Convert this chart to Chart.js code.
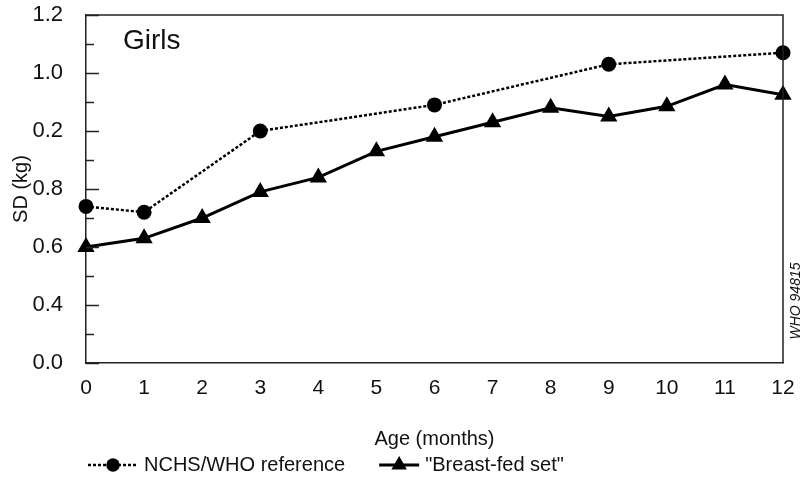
<!DOCTYPE html>
<html>
<head>
<meta charset="utf-8">
<script src="https://cdn.jsdelivr.net/npm/chart.js@4.4.1/dist/chart.umd.min.js"></script>
<style>
  html, body { margin: 0; padding: 0; background: #fff; }
  #wrap { width: 802px; height: 480px; }
</style>
</head>
<body>
<div id="wrap"><canvas id="sdChart" width="802" height="480"></canvas></div>
<script>
// data
var ageMonths = [0, 1, 2, 3, 4, 5, 6, 7, 8, 9, 10, 11, 12];
var nchsMonths = [0, 1, 3, 6, 9, 12];
var nchsSD = [0.54, 0.52, 0.80, 0.89, 1.03, 1.07];
var breastFedSD = [0.40, 0.43, 0.50, 0.59, 0.64, 0.73, 0.78, 0.83, 0.88, 0.85, 0.885, 0.96, 0.925];
// y labels exactly as printed in the original (it is mislabelled there)
var yTickLabels = ['0.0', '0.4', '0.6', '0.8', '0.2', '1.0', '1.2'];
var seriesNames = ['NCHS/WHO reference', '"Breast-fed set"'];

var FONT = '"Liberation Sans", Arial, Helvetica, sans-serif';
Chart.defaults.font.family = FONT;
Chart.defaults.color = '#111';

function toPoints(xs, ys) {
    return xs.map(function (x, i) { return { x: x, y: ys[i] }; });
}

// inward ticks on the y axis, long ones where a label is printed
var innerTicks = {
    id: 'innerTicks',
    afterDatasetsDraw: function (chart) {
        var ctx = chart.ctx, area = chart.chartArea, y = chart.scales.y;
        ctx.save();
        ctx.strokeStyle = '#222';
        ctx.lineWidth = 1.5;
        y.ticks.forEach(function (t, i) {
            var py = Math.round(y.getPixelForValue(t.value)) + 0.5;
            var len = (i % 2 === 0) ? 13 : 8;
            ctx.beginPath();
            ctx.moveTo(area.left, py);
            ctx.lineTo(area.left + len, py);
            ctx.stroke();
        });
        // top and right side of the frame
        ctx.beginPath();
        ctx.moveTo(area.left, area.top);
        ctx.lineTo(area.right, area.top);
        ctx.lineTo(area.right, area.bottom);
        ctx.stroke();
        ctx.restore();
    }
};

// panel title, file number and the legend under the axis
var decorations = {
    id: 'decorations',
    afterDraw: function (chart) {
        var ctx = chart.ctx, area = chart.chartArea;
        ctx.save();
        ctx.fillStyle = '#111';
        ctx.textBaseline = 'middle';
        ctx.font = '28px ' + FONT;
        ctx.fillText('Girls', area.left + 37, area.top + 26);

        ctx.save();
        ctx.translate(796, 301);
        ctx.rotate(-Math.PI / 2);
        ctx.textAlign = 'center';
        ctx.font = 'italic 14px ' + FONT;
        ctx.fillText('WHO 94815', 0, 0);
        ctx.restore();

        // legend
        var ly = 465, x = 88;
        var sampleW = [50, 40], gapAfter = [34, 0];
        ctx.font = '20px ' + FONT;
        chart.data.datasets.forEach(function (ds, i) {
            var sw = sampleW[i];
            ctx.save();
            ctx.strokeStyle = ds.borderColor;
            ctx.lineWidth = ds.borderWidth;
            ctx.setLineDash(ds.borderDash || []);
            ctx.beginPath();
            ctx.moveTo(x, ly);
            ctx.lineTo(x + sw, ly);
            ctx.stroke();
            ctx.setLineDash([]);
            ctx.fillStyle = ds.backgroundColor;
            Chart.helpers.drawPoint(ctx, {
                pointStyle: ds.pointStyle,
                radius: ds.pointRadius * 0.9,
                borderWidth: 0
            }, x + sw / 2, ly);
            ctx.restore();
            ctx.fillStyle = '#111';
            ctx.fillText(ds.label, x + sw + 6, ly);
            x += sw + 6 + ctx.measureText(ds.label).width + gapAfter[i];
        });
        ctx.restore();
    }
};

new Chart(document.getElementById('sdChart'), {
    type: 'line',
    data: {
        datasets: [
            {
                label: seriesNames[0],
                data: toPoints(nchsMonths, nchsSD),
                borderColor: '#000',
                backgroundColor: '#000',
                borderWidth: 2.5,
                borderDash: [3, 2],
                pointStyle: 'circle',
                pointRadius: 7.5,
                pointBorderWidth: 0,
                tension: 0,
                clip: false
            },
            {
                label: seriesNames[1],
                data: toPoints(ageMonths, breastFedSD),
                borderColor: '#000',
                backgroundColor: '#000',
                borderWidth: 3,
                pointStyle: 'triangle',
                pointRadius: 10,
                pointBorderWidth: 0,
                tension: 0,
                clip: false
            }
        ]
    },
    options: {
        responsive: false,
        animation: false,
        devicePixelRatio: 1,
        layout: { padding: { left: 0, right: 19, top: 15, bottom: 17 } },
        plugins: {
            legend: { display: false },
            tooltip: { enabled: false }
        },
        scales: {
            x: {
                type: 'linear',
                min: 0,
                max: 12,
                grid: { display: false },
                border: { display: true, color: '#222', width: 1.5 },
                ticks: {
                    stepSize: 1,
                    autoSkip: false,
                    maxRotation: 0,
                    padding: 5,
                    font: { size: 21 }
                },
                title: {
                    display: true,
                    text: 'Age (months)',
                    font: { size: 20 },
                    padding: { top: 0, bottom: 12 }
                },
                afterFit: function (s) {
                    s.height = 100;
                    s.paddingLeft = 0;
                    s.paddingRight = 0;
                }
            },
            y: {
                min: 0,
                max: 1.2,
                grid: { display: false },
                border: { display: true, color: '#222', width: 1.5 },
                ticks: {
                    stepSize: 0.1,
                    autoSkip: false,
                    padding: 15,
                    font: { size: 22 },
                    callback: function (v, i) { return i % 2 === 0 ? yTickLabels[i / 2] : ''; }
                },
                title: {
                    display: true,
                    text: 'SD (kg)',
                    font: { size: 20 },
                    padding: { top: 9, bottom: 0 }
                },
                afterFit: function (s) {
                    s.width = 86;
                    s.paddingTop = 0;
                    s.paddingBottom = 0;
                }
            }
        }
    },
    plugins: [innerTicks, decorations]
});
</script>
</body>
</html>
